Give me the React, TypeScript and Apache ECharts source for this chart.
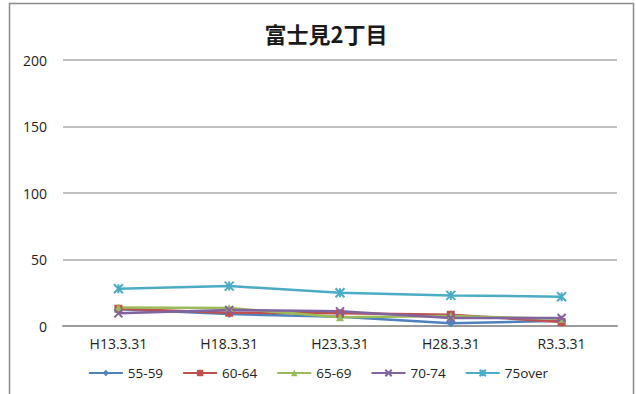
import React, { useEffect, useRef } from "react";
import * as echarts from "echarts";

const categories = ["H13.3.31", "H18.3.31", "H23.3.31", "H28.3.31", "R3.3.31"];
const s5559 = [12.5, 9, 7, 2, 4];
const s6064 = [13, 10, 9.5, 8.5, 3];
const s6569 = [14, 13.5, 6.5, 7.5, 5.5];
const s7074 = [9.5, 12, 11, 6, 6];
const s75over = [28, 30, 25, 23, 22];
const yTicks = [0, 50, 100, 150, 200];

const seriesDefs = [
  { name: "55-59", data: s5559, color: "#4F81BD", symbol: "diamond", size: 8 },
  { name: "60-64", data: s6064, color: "#C0504D", symbol: "rect", size: 8 },
  { name: "65-69", data: s6569, color: "#9BBB59", symbol: "triangle", size: 8 },
  { name: "70-74", data: s7074, color: "#8064A2", symbol: "path://M0,0L10,10M10,0L0,10", size: 8 },
  { name: "75over", data: s75over, color: "#4BACC6", symbol: "path://M0,0L10,10M10,0L0,10M5,0L5,10", size: 9 },
];

const font = "'Open Sans', 'Noto Sans', sans-serif";

export default function App() {
  const ref = useRef<HTMLDivElement>(null);
  useEffect(() => {
    if (!ref.current) return;
    const chart = echarts.init(ref.current, null, { renderer: "svg" });
    chart.setOption({
      animation: false,
      backgroundColor: "#ffffff",
      title: {
        text: "富士見2丁目",
        left: 321,
        textAlign: "center",
        top: 17,
        textStyle: { fontSize: 22, fontWeight: "bold", color: "#1a1a1a", fontFamily: "'Noto Sans CJK JP', sans-serif" },
      },
      graphic: [
        {
          type: "rect",
          shape: { x: 9.5, y: 3.5, width: 624, height: 420 },
          style: { fill: "none", stroke: "#8a8a8a", lineWidth: 1.5 },
          silent: true,
        },
        {
          type: "text",
          left: 18,
          top: -19,
          style: { text: "③ 年齢区分別の推移", fontSize: 17, fill: "#111", fontFamily: "'Noto Sans CJK JP', sans-serif" },
        },
      ],
      grid: { left: 63, right: 19, top: 60, bottom: 68, containLabel: false },
      legend: {
        left: "center",
        top: 361,
        itemWidth: 34,
        itemHeight: 8,
        itemGap: 19,
        textStyle: { fontSize: 13.5, color: "#222", fontFamily: font },
        data: seriesDefs.map((s) => s.name),
      },
      xAxis: {
        type: "category",
        data: categories,
        boundaryGap: true,
        axisLine: { lineStyle: { color: "#999", width: 2 } },
        axisTick: { show: false },
        axisLabel: { fontSize: 14, color: "#222", margin: 10, fontFamily: font },
      },
      yAxis: {
        type: "value",
        min: yTicks[0],
        max: yTicks[yTicks.length - 1],
        interval: 50,
        axisLine: { show: false },
        axisTick: { show: false },
        splitLine: { lineStyle: { color: "#aaa", width: 1.5 } },
        axisLabel: { fontSize: 14, color: "#222", margin: 16, fontFamily: font },
      },
      series: seriesDefs.map((s) => ({
        name: s.name,
        type: "line",
        data: s.data,
        symbol: s.symbol,
        symbolSize: s.size,
        showSymbol: true,
        lineStyle: { color: s.color, width: 2.5 },
        itemStyle: { color: s.color, borderColor: s.color, borderWidth: s.symbol.startsWith("path") ? 2 : 0 },
      })),
    });
    return () => chart.dispose();
  }, []);
  return (
    <div
      ref={ref}
      style={{ position: "fixed", left: 0, top: 0, width: 636, height: 394 }}
    />
  );
}
